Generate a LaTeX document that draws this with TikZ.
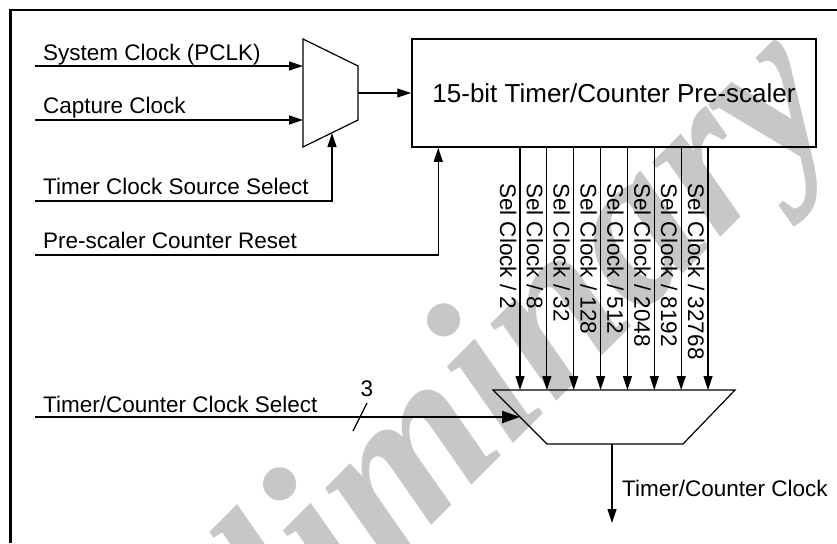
\documentclass[tikz,border=0pt]{standalone}
\usepackage{fontspec}
\setmainfont{Liberation Sans}
\newfontfamily\wmfont{Liberation Serif}
\usetikzlibrary{arrows.meta}
\begin{document}
\begin{tikzpicture}[x=1pt,y=-1pt,
  txt/.style={font=\fontsize{22.5}{27}\selectfont, inner sep=0pt},
  lbl/.style={txt, anchor=base west},
  wire/.style={line width=1.2pt},
  arr/.style={wire, -{Triangle[length=14pt,width=9pt]}},
  thickarr/.style={line width=2.5pt, -{Triangle[length=18pt,width=12pt]}},
  boxstyle/.style={draw, line width=1.5pt, minimum width=404pt, minimum height=108pt, inner sep=0pt, font=\fontsize{26}{31}\selectfont},
  watermark/.style={text=black!22, inner sep=0pt, font=\wmfont\bfseries\itshape\fontsize{220}{220}\selectfont}
]
\useasboundingbox (0,0) rectangle (837,543);
% watermark
\node[watermark, rotate=45] (wm) at (425,458) {Preliminary};
% frame
\coordinate (fbl) at (10.5,543);
\coordinate (ftl) at (10.5,10);
\coordinate (ftr) at (837,10);
\draw[line width=2.7pt] (fbl) -- (ftl) -- (ftr);

% clock source mux
\coordinate (m1a) at (303,39);
\coordinate (m1b) at (358,66);
\coordinate (m1c) at (358,120);
\coordinate (m1d) at (303,147);
\draw[wire] (m1a) -- (m1b) -- (m1c) -- (m1d) -- cycle;
\coordinate (m1out) at (358,93);
\coordinate (m1sel) at (332,133);

% prescaler
\node[boxstyle] (pre) at (614,93) {15-bit Timer/Counter Pre-scaler};

% inputs
\node[lbl] (sysclk) at (43,60) {System Clock (PCLK)};
\coordinate (sysin) at (35,66);
\draw[arr] (sysin) -- (sysin -| m1a);

\node[lbl] (capclk) at (43,113) {Capture Clock};
\coordinate (capin) at (35,120);
\draw[arr] (capin) -- (capin -| m1a);

\draw[arr] (m1out) -- (pre.west);

\node[lbl] (tcss) at (43,194) {Timer Clock Source Select};
\coordinate (tcssin) at (35,201);
\draw[arr] (tcssin) -| (m1sel);

\node[lbl] (pcr) at (43,248) {Pre-scaler Counter Reset};
\coordinate (pcrin) at (35,255);
\draw[arr] (pcrin) -| ([xshift=27pt]pre.south west);

% output mux
\coordinate (m2a) at (493,390);
\coordinate (m2b) at (735,390);
\coordinate (m2c) at (683,444);
\coordinate (m2d) at (547,444);
\draw[wire] (m2a) -- (m2b) -- (m2c) -- (m2d) -- cycle;

\foreach \i/\t in {0/2,1/8,2/32,3/128,4/512,5/2048,6/8192,7/32768}{
  \pgfmathsetmacro{\xx}{520+26.86*\i}
  \coordinate (s\i t) at (\xx,147);
  \coordinate (s\i b) at (\xx,390);
  \draw[arr] (s\i t) -- (s\i b);
  \node[lbl, rotate=-90] (sl\i) at (\xx-20,183) {Sel Clock / \t};
}

% timer/counter clock select
\node[lbl] (tccs) at (43,412) {Timer/Counter Clock Select};
\coordinate (tccsin) at (35,417);
\coordinate (m2sel) at (520,417);
\draw[thickarr] (tccsin) -- (m2sel);
\coordinate (bs1) at (353,431);
\coordinate (bs2) at (367,403);
\draw[wire] (bs1) -- (bs2);
\node[txt] (bw) at (367,389) {3};

% output
\coordinate (m2out) at (612,444);
\coordinate (tcout) at (612,523);
\draw[arr] (m2out) -- (tcout);
\node[lbl] (tcclk) at (622,496) {Timer/Counter Clock};
\end{tikzpicture}
\end{document}
